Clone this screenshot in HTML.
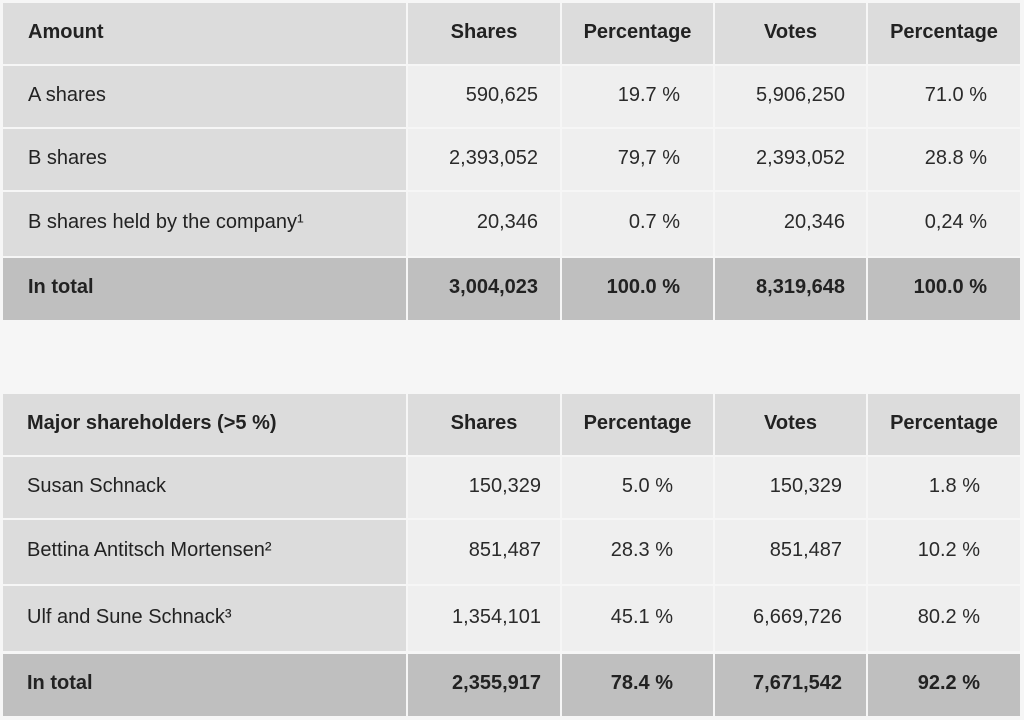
<!DOCTYPE html>
<html><head><meta charset="utf-8"><style>
html,body{margin:0;padding:0;background:#f6f6f6;width:1024px;height:720px;overflow:hidden;font-family:"Liberation Sans",Arial,sans-serif;}
.c{position:absolute;box-sizing:border-box;font-size:20px;color:#222;line-height:20px;}
.c span{position:absolute;white-space:nowrap;}
.h{background:#dcdcdc;font-weight:bold;}
.l{background:#dcdcdc;}
.d{background:#efefef;color:#2a2a2a;}
.t{background:#bfbfbf;font-weight:bold;}
</style></head><body>
<div id="root"></div>
<script>
const cols=[[3,406],[408,560],[562,713],[715,866],[868,1020]];
const t1Rows=[[3,64],[66,127],[129,190],[192,256],[258,320]];
const t2Rows=[[394,455],[457,518],[520,584],[586,651],[654,716]];
const t1Data=[
 ["Amount","Shares","Percentage","Votes","Percentage"],
 ["A shares","590,625","19.7 %","5,906,250","71.0 %"],
 ["B shares","2,393,052","79,7 %","2,393,052","28.8 %"],
 ["B shares held by the company¹","20,346","0.7 %","20,346","0,24 %"],
 ["In total","3,004,023","100.0 %","8,319,648","100.0 %"]];
const t2Data=[
 ["Major shareholders (>5 %)","Shares","Percentage","Votes","Percentage"],
 ["Susan Schnack","150,329","5.0 %","150,329","1.8 %"],
 ["Bettina Antitsch Mortensen²","851,487","28.3 %","851,487","10.2 %"],
 ["Ulf and Sune Schnack³","1,354,101","45.1 %","6,669,726","80.2 %"],
 ["In total","2,355,917","78.4 %","7,671,542","92.2 %"]];
const t1Right=[0,538,680,845,987];
const t2Right=[0,541,673,842,980];
const root=document.getElementById('root');
function build(rows,data,right,name,lx){
 rows.forEach((r,ri)=>{
  cols.forEach((c,ci)=>{
   const d=document.createElement('div');
   let cls=ri===0?'h':(ri===rows.length-1?'t':(ci===0?'l':'d'));
   d.className='c '+cls;
   d.style.left=c[0]+'px';d.style.top=r[0]+'px';
   d.style.width=(c[1]-c[0])+'px';d.style.height=(r[1]-r[0])+'px';
   
   
   const s=document.createElement('span');
   s.textContent=data[ri][ci];
   const top=(r[1]-r[0])/2-12;
   s.style.top=top+'px';
   if(ci===0){s.style.left=(lx-c[0])+'px';}
   else if(ri===0){s.style.left='0';s.style.width='100%';s.style.textAlign='center';}
   else {s.style.right=(c[1]-right[ci])+'px';}
   
   
   d.appendChild(s);
   root.appendChild(d);
  });
 });
}
build(t1Rows,t1Data,t1Right,'share-capital-table',28);
build(t2Rows,t2Data,t2Right,'major-shareholders-table',27);
</script>
</body></html>
